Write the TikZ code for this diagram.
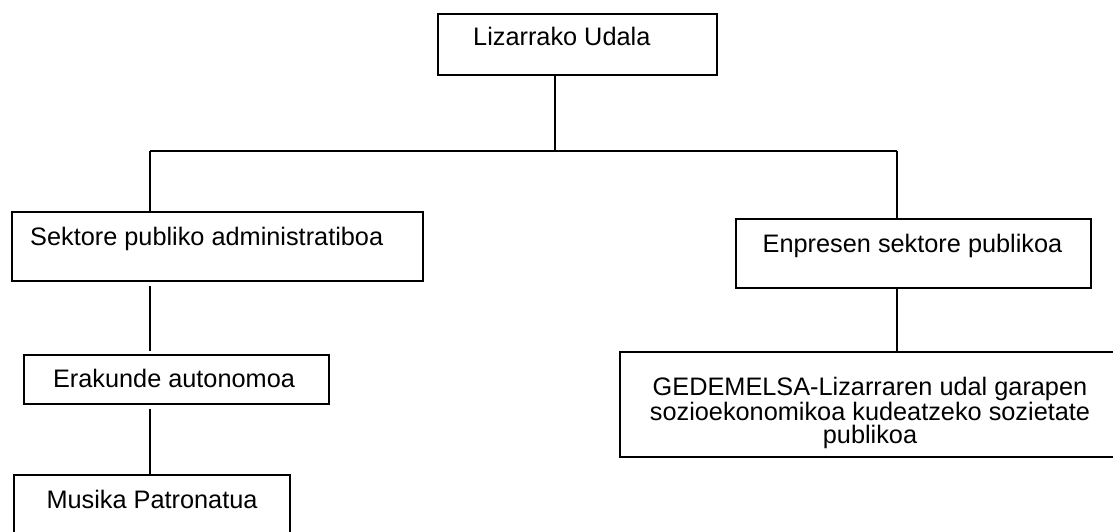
\documentclass[tikz,border=0pt]{standalone}
\usepackage{fontspec}
\setmainfont{Liberation Sans}
\begin{document}
\begin{tikzpicture}[x=1pt,y=-1pt,
  box/.style={draw=black,line width=1.6pt,rectangle,inner sep=0pt,anchor=north west},
  lbl/.style={inner sep=0pt,font=\fontsize{25.3}{23}\selectfont},
  conn/.style={draw=black,line width=1.5pt}]
\useasboundingbox (0,0) rectangle (1113,531);
% boxes
\node[box,minimum width=279pt,minimum height=61pt] (top) at (437,13) {};
\node[box,minimum width=411pt,minimum height=69pt] (sek) at (11,211) {};
\node[box,minimum width=355pt,minimum height=69pt] (enp) at (735,218) {};
\node[box,minimum width=305pt,minimum height=49pt] (era) at (23,354) {};
\node[box,minimum width=276pt,minimum height=75pt] (mus) at (13,474) {};
\node[box,minimum width=505pt,minimum height=105pt] (ged) at (619,351) {};
% texts
\node[lbl,anchor=base west] (ttop) at (473,45) {Lizarrako Udala};
\node[lbl,anchor=base west] (tsek) at (30,245) {Sektore publiko administratiboa};
\node[lbl,anchor=base] (tenp) at (912.5,252) {Enpresen sektore publikoa};
\node[lbl,anchor=base] (tera) at (174,387) {Erakunde autonomoa};
\node[lbl,anchor=base] (tmus) at (152,508) {Musika Patronatua};
\node[lbl,anchor=base,align=center] (tged) at (870,443) {GEDEMELSA-Lizarraren udal garapen\\sozioekonomikoa kudeatzeko sozietate\\publikoa};
% junctions
\coordinate (j) at (555,151);
\coordinate (jl) at (150,151);
\coordinate (jr) at (897,151);
% connectors
\draw[conn] (top.south -| j) -- (j);
\draw[conn] (jl) -- (jr);
\draw[conn] (jl) -- (jl |- sek.north);
\draw[conn] (jr) -- (jr |- enp.north);
\draw[conn,shorten <=4pt,shorten >=3pt] (sek.south -| jl) -- (era.north -| jl);
\draw[conn,shorten <=4pt] (era.south -| jl) -- (mus.north -| jl);
\draw[conn] (enp.south -| jr) -- (ged.north -| jr);
\end{tikzpicture}
\end{document}
